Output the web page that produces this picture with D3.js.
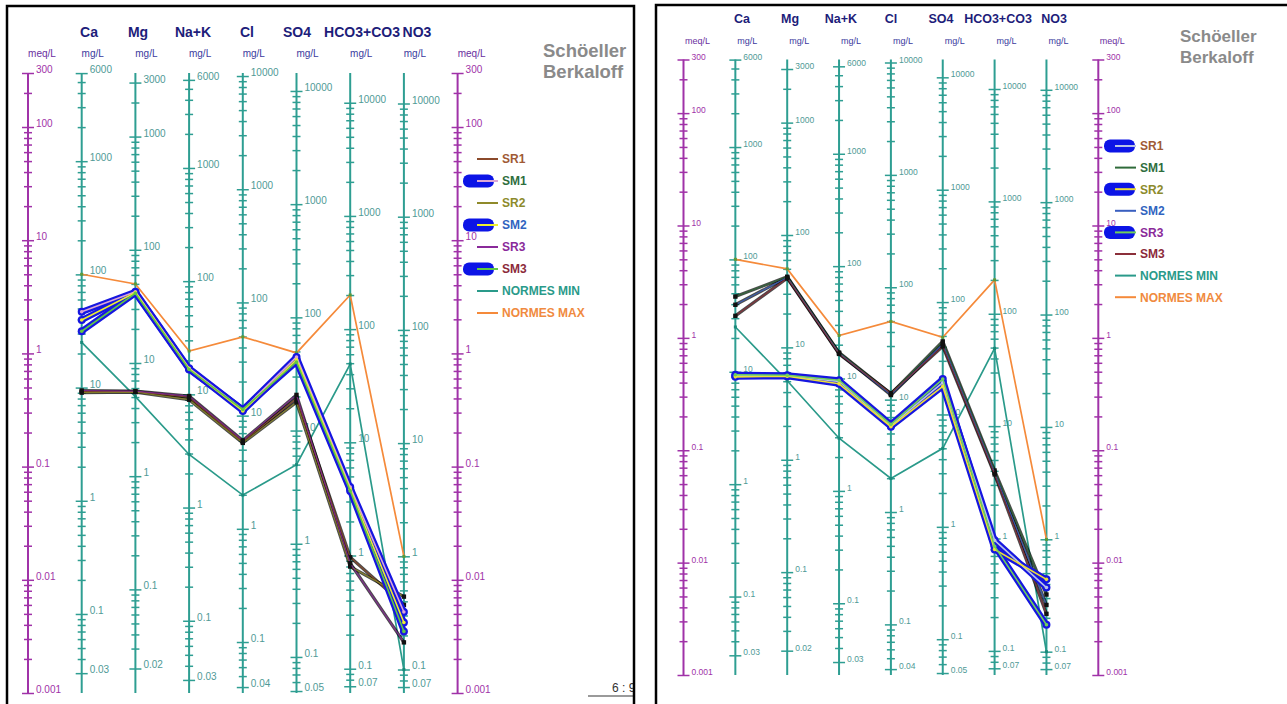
<!DOCTYPE html>
<html>
<head>
<meta charset="utf-8">
<script src="https://cdn.jsdelivr.net/npm/d3@7"></script>
<style>
  body { margin: 0; background: #ffffff; }
  svg { display: block; }
  text { font-family: Arial, "Liberation Sans", sans-serif; }
</style>
</head>
<body>
<svg id="chart" width="1287" height="704"></svg>
<script>
// ---- Schoeller-Berkaloff data (meq/L) ----
const ions = ["Ca", "Mg", "Na+K", "Cl", "SO4", "HCO3+CO3", "NO3"];
const eqWeights = [20.04, 12.15, 23.0, 35.45, 48.03, 61.02, 62.0];

// labelled values of each mg/L axis
const caLabels   = [6000, 1000, 100, 10, 1, 0.1, 0.03];
const mgLabels   = [3000, 1000, 100, 10, 1, 0.1, 0.02];
const nakLabels  = [6000, 1000, 100, 10, 1, 0.1, 0.03];
const clLabels   = [10000, 1000, 100, 10, 1, 0.1, 0.04];
const so4Labels  = [10000, 1000, 100, 10, 1, 0.1, 0.05];
const hco3Labels = [10000, 1000, 100, 10, 1, 0.1, 0.07];
const no3Labels  = [10000, 1000, 100, 10, 1, 0.1, 0.07];
const ionLabels = [caLabels, mgLabels, nakLabels, clLabels, so4Labels, hco3Labels, no3Labels];
const meqLabels = [300, 100, 10, 1, 0.1, 0.01, 0.001];

const seriesNames = ["SR1", "SM1", "SR2", "SM2", "SR3", "SM3", "NORMES MIN", "NORMES MAX"];
const sr1 = [0.46, 0.46, 0.41, 0.166, 0.40, 0.0158, 0.0060];
const sm1 = [2.33, 3.50, 0.74, 0.318, 0.93, 0.066, 0.0052];
const sr2 = [0.45, 0.455, 0.39, 0.162, 0.37, 0.0131, 0.0071];
const sm2 = [1.97, 3.45, 0.73, 0.310, 0.88, 0.063, 0.0042];
const sr3 = [0.47, 0.465, 0.42, 0.170, 0.43, 0.0140, 0.0028];
const sm3 = [1.57, 3.40, 0.72, 0.320, 0.84, 0.061, 0.0035];
const normesMin = [1.25, 0.415, 0.128, 0.056, 0.104, 0.806, 0.00161];
const normesMax = [5.0, 4.11, 1.05, 1.40, 1.01, 3.28, 0.0161];
const seriesValues = [sr1, sm1, sr2, sm2, sr3, sm3, normesMin, normesMax];

const lineColors = ["#8b4a2b", "#2f6b3a", "#8f8a2a", "#3a5fc0", "#8a2a9a", "#8b2f3a", "#2a9a8a", "#f58a3a"];
const textColors = ["#a05a35", "#2e6e3e", "#8c8a2c", "#3064c0", "#8a2a9a", "#8b2a3a", "#2a9a8a", "#f08a40"];

// ---- layout of the two diagrams ----
const panels = [
  {
    frame: [7, 6, 627, 710],
    x0: 28, step: 53.7, top: 73, bottom: 693,
    titleCx: [89, 138, 193, 247, 297, 362, 417], titleY: 37, titleSize: 14,
    unitDx: 11, meqUnitDx: 14, unitY: 57, unitSize: 10,
    tickFont: 10, minorTick: 4, majorTick: 6,
    schX: 543, schY: [57, 78], schSize: 18.5,
    legX: 477, legY: 159, legDy: 22, legSize: 12, pillX: 463,
    highlight: ["SM1", "SM2", "SM3"],
    inner: { SM1: "#dba6d6", SM2: "#eeee30", SM3: "#60c844" }
  },
  {
    frame: [656, 5, 640, 710],
    x0: 683.5, step: 51.85, top: 59.5, bottom: 675,
    titleCx: [742, 790, 841, 891, 941, 998, 1054], titleY: 23, titleSize: 12.5,
    unitDx: 12, meqUnitDx: 14, unitY: 44, unitSize: 9,
    tickFont: 8.5, minorTick: 4, majorTick: 6,
    schX: 1180, schY: [42, 63], schSize: 17,
    legX: 1115, legY: 146, legDy: 21.6, legSize: 12, pillX: 1104,
    highlight: ["SR1", "SR2", "SR3"],
    inner: { SR1: "#b9c3e6", SR2: "#eede38", SR3: "#70d05a" }
  }
];

const svg = d3.select("#chart");
const fmt = d3.format("~g");
const ionColor = "#2e9e92";
const ionText = "#4f9a96";
const meqColor = "#a032a8";

function logTickValues(lo, hi) {
  const out = [];
  for (let k = Math.floor(Math.log10(lo)) - 1; k <= Math.ceil(Math.log10(hi)); k++) {
    for (let m = 1; m <= 9; m++) {
      const v = +(m * Math.pow(10, k)).toPrecision(6);
      if (v >= lo * 0.9999 && v <= hi * 1.0001) out.push(v);
    }
  }
  return out;
}
const inList = (v, list) => list.some(l => Math.abs(l - v) / l < 1e-6);
const isPow10 = v => Math.abs(Math.log10(v) - Math.round(Math.log10(v))) < 1e-6;

function drawAxis(g, P, x, scale, labels, color, textColor) {
  const [hi, lo] = scale.domain();
  const lmin = d3.min(labels), lmax = d3.max(labels);
  const ax = d3.axisRight(scale)
    .tickValues(logTickValues(lmin, lmax))
    .tickSizeInner(P.minorTick).tickSizeOuter(0).tickPadding(3)
    .tickFormat(v => inList(v, labels) ? fmt(v) : "");
  const a = g.append("g").attr("transform", `translate(${x},0)`).call(ax);
  a.select(".domain").remove();
  a.insert("line", ":first-child")
    .attr("x1", 0).attr("x2", 0)
    .attr("y1", scale(hi)).attr("y2", scale(lo))
    .attr("stroke", color).attr("stroke-width", 2);
  a.selectAll(".tick line")
    .attr("x1", d => -(isPow10(d) || inList(d, [lmin, lmax]) ? P.majorTick : P.minorTick))
    .attr("x2", d => (isPow10(d) || inList(d, [lmin, lmax]) ? P.majorTick : P.minorTick))
    .attr("stroke", color).attr("stroke-width", 1.5);
  a.selectAll(".tick text")
    .attr("x", P.majorTick + 2)
    .attr("dy", "-0.05em")
    .attr("fill", textColor)
    .attr("font-size", P.tickFont)
    .attr("font-family", "Arial, 'Liberation Sans', sans-serif");
}

function drawPanel(P) {
  const g = svg.append("g");
  const clipId = "clip" + Math.round(P.x0);
  svg.append("clipPath").attr("id", clipId)
    .append("rect").attr("x", P.frame[0]).attr("y", P.frame[1])
    .attr("width", P.frame[2]).attr("height", P.frame[3]);
  const body = g.append("g").attr("clip-path", `url(#${clipId})`);

  const yMeq = d3.scaleLog().domain([300, 0.001]).range([P.top, P.bottom]);
  const xPos = d3.scaleLinear().domain([0, 1]).range([P.x0, P.x0 + P.step]);
  const ionX = i => xPos(i + 1);

  // headers
  ions.forEach((name, i) => {
    body.append("text").attr("x", P.titleCx[i]).attr("y", P.titleY)
      .attr("text-anchor", "middle").attr("font-weight", "bold")
      .attr("font-size", P.titleSize).attr("fill", "#1d1d7a").text(name);
    body.append("text").attr("x", ionX(i) + P.unitDx).attr("y", P.unitY)
      .attr("text-anchor", "middle").attr("font-size", P.unitSize)
      .attr("fill", "#3b3b9e").text("mg/L");
  });
  [xPos(0), xPos(8)].forEach(x => {
    body.append("text").attr("x", x + P.meqUnitDx).attr("y", P.unitY)
      .attr("text-anchor", "middle").attr("font-size", P.unitSize)
      .attr("fill", "#6a2fa0").text("meq/L");
  });
  ["Schöeller", "Berkaloff"].forEach((t, k) => {
    body.append("text").attr("x", P.schX).attr("y", P.schY[k])
      .attr("font-weight", "bold").attr("font-size", P.schSize)
      .attr("fill", "#8a8a8a").text(t);
  });

  // axes
  [xPos(0), xPos(8)].forEach(x => drawAxis(body, P, x, yMeq, meqLabels, meqColor, meqColor));
  ions.forEach((name, i) => {
    const ew = eqWeights[i];
    const yMg = d3.scaleLog().domain([300 * ew, 0.001 * ew]).range([P.top, P.bottom]);
    drawAxis(body, P, ionX(i), yMg, ionLabels[i], ionColor, ionText);
  });

  const line = d3.line().x((d, i) => ionX(i)).y(d => yMeq(d));
  const series = seriesNames.map((name, k) => ({ name, values: seriesValues[k], color: lineColors[k], k }));
  const norms = series.filter(s => s.name.startsWith("NORMES"));
  const hl = series.filter(s => P.highlight.includes(s.name));
  const plain = series.filter(s => !s.name.startsWith("NORMES") && !P.highlight.includes(s.name));

  // standards
  norms.forEach(s => {
    body.append("path").attr("d", line(s.values)).attr("fill", "none")
      .attr("stroke", s.color).attr("stroke-width", 1.7);
    body.append("g").selectAll("rect").data(s.values).join("rect")
      .attr("x", (d, i) => ionX(i) - 1.5).attr("y", d => yMeq(d) - 1.5)
      .attr("width", 3).attr("height", 3)
      .attr("fill", s.name === "NORMES MAX" ? "#5a9a3a" : "#1a8a7a");
  });

  // samples not selected: dark shadow + coloured line + black markers
  plain.forEach(s => {
    body.append("path").attr("d", line(s.values)).attr("fill", "none")
      .attr("stroke", "#000").attr("stroke-opacity", 0.7).attr("stroke-width", 3.2)
      .attr("stroke-linejoin", "round");
  });
  plain.forEach(s => {
    body.append("path").attr("d", line(s.values)).attr("fill", "none")
      .attr("stroke", s.color).attr("stroke-width", 1.2).attr("stroke-opacity", 0.85);
    body.append("g").selectAll("rect").data(s.values).join("rect")
      .attr("x", (d, i) => ionX(i) - 2.2).attr("y", d => yMeq(d) - 2.2)
      .attr("width", 4.4).attr("height", 4.4).attr("fill", "#111");
  });

  // selected samples: blue halo with light inner line
  hl.forEach(s => {
    body.append("path").attr("d", line(s.values)).attr("fill", "none")
      .attr("stroke", "#1616e0").attr("stroke-width", 6)
      .attr("stroke-linejoin", "round").attr("stroke-linecap", "round");
    body.append("g").selectAll("circle").data(s.values).join("circle")
      .attr("cx", (d, i) => ionX(i)).attr("cy", d => yMeq(d)).attr("r", 4)
      .attr("fill", "#1616e0");
  });
  hl.forEach(s => {
    body.append("path").attr("d", line(s.values)).attr("fill", "none")
      .attr("stroke", P.inner[s.name]).attr("stroke-width", 1.6);
    body.append("g").selectAll("circle").data(s.values).join("circle")
      .attr("cx", (d, i) => ionX(i)).attr("cy", d => yMeq(d)).attr("r", 1.8)
      .attr("fill", P.inner[s.name]);
  });

  // legend
  series.forEach((s, k) => {
    const y = P.legY + k * P.legDy;
    if (P.highlight.includes(s.name)) {
      body.append("rect").attr("x", P.pillX).attr("y", y - 6.5)
        .attr("width", 31).attr("height", 13).attr("rx", 6).attr("fill", "#0c14e6");
    }
    body.append("line").attr("x1", P.legX).attr("x2", P.legX + 21)
      .attr("y1", y).attr("y2", y).attr("stroke-width", 2)
      .attr("stroke", P.highlight.includes(s.name) ? P.inner[s.name] : s.color);
    body.append("text").attr("x", P.legX + 25).attr("y", y + 4.3)
      .attr("font-weight", "bold").attr("font-size", P.legSize)
      .attr("fill", textColors[s.k]).text(s.name);
  });

  // frame
  g.append("rect").attr("x", P.frame[0]).attr("y", P.frame[1])
    .attr("width", P.frame[2]).attr("height", P.frame[3])
    .attr("fill", "none").attr("stroke", "#000").attr("stroke-width", 2.5);
  return body;
}

const leftBody = drawPanel(panels[0]);
drawPanel(panels[1]);

// page counter in the lower corner of the first sheet
leftBody.append("line").attr("x1", 588).attr("x2", 634).attr("y1", 696).attr("y2", 696)
  .attr("stroke", "#9a9a9a").attr("stroke-width", 2);
leftBody.append("text").attr("x", 612).attr("y", 692).attr("font-size", 12)
  .attr("fill", "#333").text("6 : 9");
</script>
</body>
</html>
